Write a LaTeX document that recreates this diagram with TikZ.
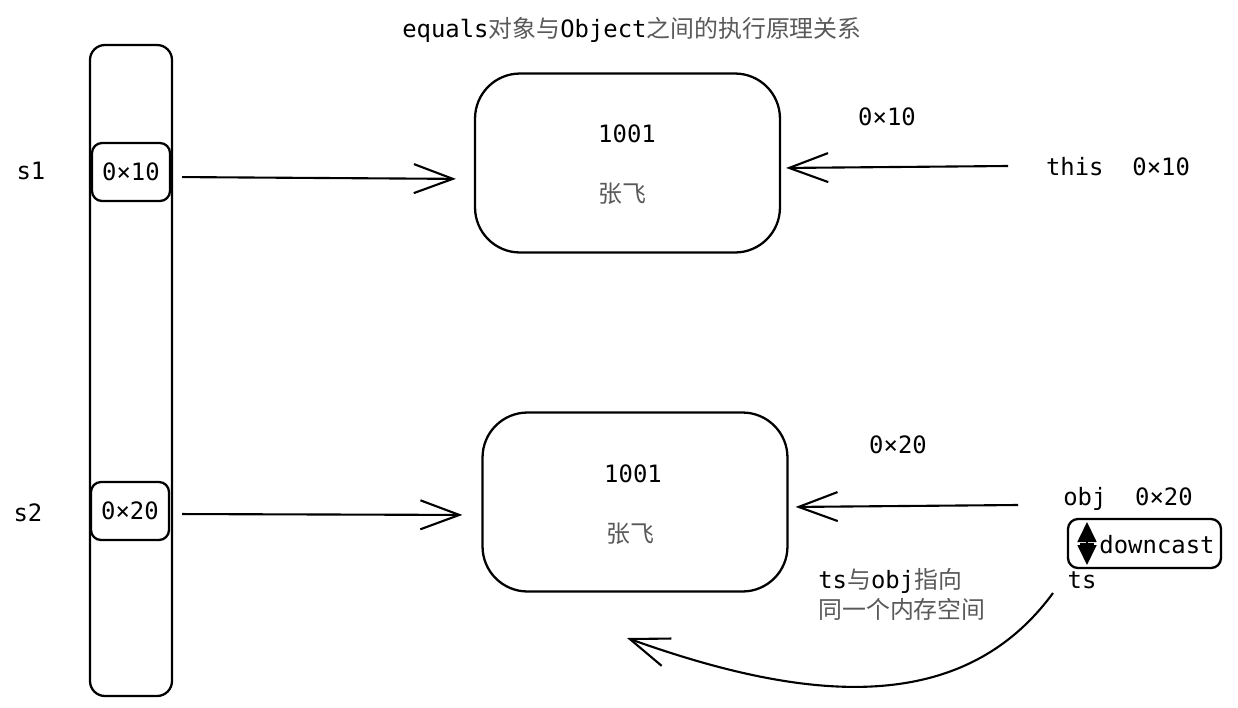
\documentclass[tikz,border=0pt]{standalone}
\usepackage{fontspec}
\setmonofont{DejaVu Sans Mono}
\newfontfamily\cjk{Noto Sans CJK SC}
\usetikzlibrary{arrows.meta}
\tikzset{>={Straight Barb[length=0.78cm,width=0.58cm]}}
\newcommand{\zh}[1]{{\cjk\color{black!65}#1}}
\tikzset{
  txt/.style={font=\fontsize{13.6}{17}\selectfont\ttfamily,inner sep=0pt},
  slot/.style={draw,line width=1.3pt,rounded corners=0.2cm,inner sep=0pt,
    minimum width=1.56cm,minimum height=1.16cm},
  obj/.style={draw,line width=1.3pt,rounded corners=0.9cm,inner sep=0pt,
    minimum width=6.1cm,minimum height=3.58cm},
  ref/.style={->,line width=1.2pt}
}

\begin{document}
\begin{tikzpicture}[x=0.02cm,y=-0.02cm]

  \useasboundingbox (0,0) rectangle (1238,707);

  % title
  \node[txt] (title) at (632,30) {equals\zh{对象与}Object\zh{之间的执行原理关系}};

  % stack
  \draw[line width=1.3pt,rounded corners=0.3cm] (90,45) rectangle (172,696);
  \node[slot] (b1) at (131,172) {};
  \node[txt] at (b1) {0×10};
  \node[slot] (b2) at (130,511) {};
  \node[txt] at (b2) {0×20};
  \node[txt] (s1) at (31,171) {s1};
  \node[txt] (s2) at (28,513) {s2};

  % heap objects
  \node[obj] (o1) at (627.5,163) {};
  \node[txt] at (627,134) {1001};
  \node[txt] at (622,194) {\zh{张飞}};
  \node[obj] (o2) at (635,502) {};
  \node[txt] at (633,474) {1001};
  \node[txt] at (630,534) {\zh{张飞}};

  % references from the stack
  \draw[ref,shorten <=0.22cm,shorten >=0.36cm]
    ([yshift=-0.1cm]b1.east) -- ([yshift=-0.32cm]o1.west);
  \draw[ref,shorten <=0.24cm,shorten >=0.38cm]
    ([yshift=-0.06cm]b2.east) -- ([yshift=-0.26cm]o2.west);

  % this
  \node[txt] (this) at (1118,167) {this\ \ 0×10};
  \node[txt] (a1) at (887,117) {0×10};
  \coordinate (t1) at (1008,166);
  \draw[ref,shorten >=0.1cm] (t1) -- ([yshift=-0.1cm]o1.east);

  % obj
  \node[txt] (obj) at (1128,499) {obj\ \ 0×20};
  \node[txt] (a2) at (898,445) {0×20};
  \coordinate (t2) at (1018,505);
  \draw[ref,shorten >=0.14cm] (t2) -- ([yshift=-0.1cm]o2.east);

  % downcast
  \draw[line width=1.3pt,rounded corners=0.2cm] (1068,519) rectangle (1221,568);
  \node[txt] (down) at (1157,545) {downcast};
  \draw[line width=1pt,{Triangle[length=0.4cm,width=0.38cm]}-{Triangle[length=0.4cm,width=0.38cm]}]
    (1087,522) -- (1087,565);
  \draw[line width=1pt] (1080,544) -- (1094,544);
  \node[txt] (ts) at (1082,580) {ts};

  % same memory
  \node[txt,align=left,anchor=west] (note) at (818,594)
    {ts\zh{与}obj\zh{指向}\\\zh{同一个内存空间}};
  \coordinate (c1) at (1053,593);
  \coordinate (c2) at (627,638);
  \draw[ref] (c1) .. controls (960,720) and (800,700) .. (c2);

\end{tikzpicture}
\end{document}
